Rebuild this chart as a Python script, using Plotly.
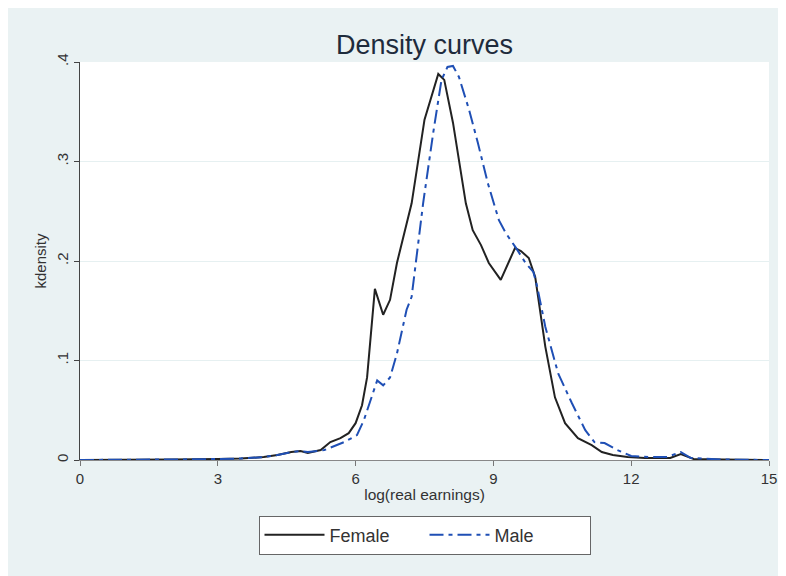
import plotly.graph_objects as go

# Data
female_x = [0, 1, 2, 3, 3.5, 4.0, 4.3, 4.6, 4.8, 4.96, 5.24, 5.45, 5.67, 5.85, 6.0, 6.14, 6.25,
            6.42, 6.6, 6.75, 6.9, 7.22, 7.5, 7.8, 7.93, 8.12, 8.4, 8.55, 8.73, 8.9, 9.16, 9.47,
            9.6, 9.77, 9.91, 10.13, 10.34, 10.56, 10.84, 11.14, 11.36, 11.6, 11.92, 12.3, 12.65,
            12.85, 13.08, 13.36, 14, 15]
female_y = [0, 0, 0.0005, 0.001, 0.0015, 0.003, 0.005, 0.008, 0.009, 0.007, 0.010, 0.018, 0.022,
            0.027, 0.037, 0.055, 0.083, 0.172, 0.146, 0.161, 0.198, 0.258, 0.342, 0.388, 0.382,
            0.339, 0.258, 0.231, 0.216, 0.198, 0.181, 0.213, 0.210, 0.203, 0.184, 0.114, 0.063,
            0.037, 0.022, 0.015, 0.008, 0.005, 0.003, 0.002, 0.002, 0.002, 0.006, 0.001, 0.0005, 0]

male_x = [0, 1, 2, 3, 3.5, 4.0, 4.3, 4.6, 4.8, 4.96, 5.32, 5.75, 6.03, 6.18, 6.32, 6.47, 6.6,
          6.75, 6.9, 7.11, 7.22, 7.47, 7.69, 7.87, 8.0, 8.12, 8.25, 8.47, 8.66, 8.88, 9.12, 9.27,
          9.48, 9.7, 9.87, 9.95, 10.13, 10.41, 10.71, 11.0, 11.2, 11.42, 11.7, 12.0, 12.43,
          12.78, 13.08, 13.3, 14, 15]
male_y = [0, 0, 0.0005, 0.001, 0.0015, 0.003, 0.005, 0.008, 0.009, 0.008, 0.010, 0.018, 0.025,
          0.040, 0.060, 0.080, 0.075, 0.083, 0.107, 0.151, 0.164, 0.258, 0.329, 0.382, 0.395,
          0.396, 0.385, 0.352, 0.319, 0.278, 0.241, 0.228, 0.214, 0.198, 0.189, 0.175, 0.134,
          0.087, 0.057, 0.030, 0.018, 0.017, 0.010, 0.004, 0.003, 0.003, 0.008, 0.002, 0.0005, 0]

x_ticks = [0, 3, 6, 9, 12, 15]
y_ticks = [0, 0.1, 0.2, 0.3, 0.4]
y_ticklabels = ["0", ".1", ".2", ".3", ".4"]

BG = "#EAF2F3"
FONT = "Liberation Sans"

fig = go.Figure()
fig.add_trace(go.Scatter(x=female_x, y=female_y, mode="lines", name="Female",
                         line=dict(color="#222222", width=2)))
fig.add_trace(go.Scatter(x=male_x, y=male_y, mode="lines", name="Male",
                         line=dict(color="#1f4fb5", width=2, dash="14px,5px,4px,5px")))

W, H = 778, 568
L, R, T, B = 72, 9, 54, 116
ph = H - T - B

fig.update_layout(
    width=W, height=H, autosize=False,
    margin=dict(l=L, r=R, t=T, b=B),
    paper_bgcolor=BG,
    plot_bgcolor="white",
    font=dict(family=FONT, color="#333333", size=14),
    title=dict(text="Density curves", x=0.5, xref="paper", xanchor="center",
               y=1 - 37 / H, yref="container", yanchor="middle",
               font=dict(family=FONT, size=27, color="#1e2b3c")),
    showlegend=True,
    legend=dict(orientation="h", x=0.5, xanchor="center", y=-75 / ph, yanchor="middle",
                bgcolor="white", bordercolor="#666666", borderwidth=1,
                font=dict(family=FONT, size=18, color="#333333"),
                entrywidth=90, itemwidth=60),
)

fig.update_xaxes(range=[0, 15], tickvals=x_ticks, ticks="outside", ticklen=5,
                 tickcolor="#777777", showline=True, linecolor="#888888", linewidth=1,
                 showgrid=False, zeroline=False, tickfont=dict(size=15),
                 title=dict(text="log(real earnings)", font=dict(size=15.5), standoff=3))
fig.update_yaxes(range=[0, 0.4], tickvals=y_ticks, ticktext=y_ticklabels, ticks="outside",
                 ticklen=5, tickcolor="#444444", showline=True, linecolor="#444444", linewidth=1,
                 showgrid=True, gridcolor="#E6F0F1", gridwidth=1, zeroline=False,
                 tickangle=-90, tickfont=dict(size=15),
                 title=dict(text="kdensity", font=dict(size=15), standoff=3))

fig.write_html("out.html", config={"responsive": False},
               post_script="document.documentElement.style.overflow='hidden';"
                           "document.body.style.overflow='hidden';")
